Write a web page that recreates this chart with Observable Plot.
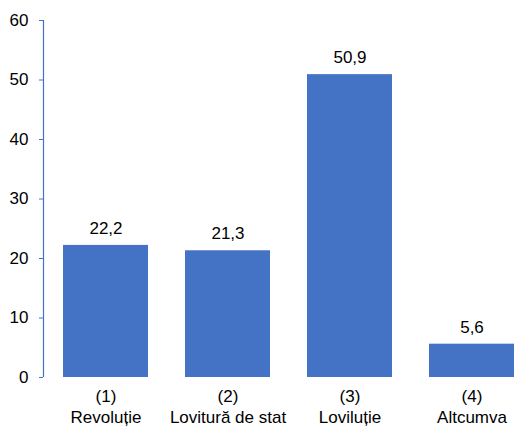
<!DOCTYPE html>
<html>
<head>
<meta charset="utf-8">
<script src="https://cdn.jsdelivr.net/npm/d3@7"></script>
<script src="https://cdn.jsdelivr.net/npm/@observablehq/plot@0.6"></script>
<style>
  body { margin: 0; background: #fff; }
  svg { font-family: "Liberation Sans", Arial, sans-serif; }
</style>
</head>
<body>
<div id="chart"></div>
<script>
const codes = ["(1)", "(2)", "(3)", "(4)"];
const categories = ["Revoluție", "Lovitură de stat", "Loviluție", "Altcumva"];
const values = [22.2, 21.3, 50.9, 5.6];
const yTicks = [0, 10, 20, 30, 40, 50, 60];

const data = categories.map((c, i) => ({key: i, code: codes[i], name: c, value: values[i]}));
const fmt = v => v.toFixed(1).replace(".", ",");

const W = 529, ML = 43;
const chart = Plot.plot({
  width: W,
  height: 426,
  marginLeft: ML,
  marginRight: 0,
  marginTop: 20,
  marginBottom: 49,
  style: {fontFamily: "Liberation Sans, Arial, sans-serif", fontSize: "17px", color: "#000", background: "#fff"},
  x: {domain: data.map(d => d.key), range: [43, 534], paddingInner: 0.307, paddingOuter: 0.1535},
  y: {domain: [0, 60]},
  marks: [
    Plot.barY(data, {x: "key", y: "value", fill: "#4472C4"}),
    Plot.ruleY([0], {x1: 43, x2: 529, stroke: "#d9d9d9", strokeWidth: 1.3}),
    Plot.ruleX([0], {x: null, y1: 0, y2: 60, stroke: "#4472C4", strokeWidth: 1.2, dx: ML - (ML + W) / 2}),
    Plot.axisY({ticks: yTicks, tickSize: 4, tickPadding: 11, stroke: "#4472C4", fill: "#000", fontSize: 17, label: null, tickFormat: d => String(d)}),
    Plot.axisX({tickSize: 0, tickPadding: 10, fontSize: 17, lineHeight: 1.22, fill: "#000", label: null, tickFormat: k => codes[k] + "\n" + categories[k]}),
    Plot.text(data, {x: "key", y: "value", text: d => fmt(d.value), dy: -17, fontSize: 17, fill: "#000"})
  ]
});
document.getElementById("chart").append(chart);
</script>
</body>
</html>
